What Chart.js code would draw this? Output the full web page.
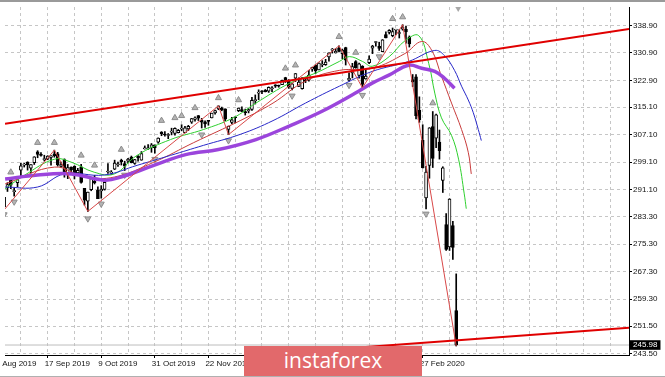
<!DOCTYPE html>
<html lang="en">
<head>
<meta charset="UTF-8">
<title>SPY Daily</title>
<script src="https://cdn.jsdelivr.net/npm/chart.js"></script>
<style>
  body { margin: 0; background: #fff; }
  #wrap { position: relative; width: 665px; height: 374px; border-top: 2px solid #9a9a9a; border-bottom: 1px solid #b0b0b0; }
  #banner { position: absolute; left: 244px; top: 344px; width: 178px; height: 30px; background: #e2696b;
            color: #fff; font: 21px 'Open Sans', sans-serif; text-align: center; line-height: 29px; }
</style>
</head>
<body>
<div id="wrap">
  <canvas id="spyChart" width="665" height="374"></canvas>
  <div id="banner">instaforex</div>
</div>
<script>
// daily bars, index 0 = 23 Aug 2019 ... 138 = 12 Mar 2020
const opens = [290.92,287.27,289.54,286.14,291.72,294.22,290.57,293.14,296.79,298.25,
  299.15,297.41,299.00,302.11,301.25,299.84,299.97,300.50,301.52,301.56,
  297.86,299.85,295.98,297.63,297.89,295.97,297.74,291.50,287.81,291.14,
  293.52,291.04,290.75,291.18,296.27,295.93,297.10,298.37,299.68,298.68,
  299.42,300.58,298.73,300.91,299.74,302.94,303.00,303.43,304.13,304.92,
  307.85,307.27,306.88,307.85,307.45,307.70,308.72,307.71,308.80,310.75,
  311.52,312.68,311.29,310.86,311.09,311.98,313.41,314.61,314.86,314.59,
  308.65,310.70,312.23,314.12,314.44,313.82,314.03,314.43,316.96,319.18,
  319.63,320.00,319.75,320.45,321.59,321.47,321.65,323.74,322.95,320.53,
  323.54,321.16,320.49,323.02,322.94,326.16,327.29,325.92,327.37,327.47,
  329.71,331.70,330.90,332.29,330.63,332.44,323.03,325.06,328.38,324.36,
  327.00,323.35,328.07,332.27,333.91,332.82,331.23,336.17,336.83,335.86,
  337.51,336.51,337.79,337.74,335.47,323.14,323.94,314.18,305.46,288.70,
  298.21,309.50,306.12,304.98,293.79,281.00,274.50,280.70,256.00];
const highs = [292.76,288.00,289.95,289.07,293.16,294.24,291.58,294.06,298.83,298.78,
  299.24,298.45,300.71,302.46,301.93,301.14,301.01,301.04,302.63,301.98,
  299.15,300.09,298.46,297.79,298.06,297.34,298.46,291.51,290.45,294.42,
  295.30,291.96,292.30,294.21,298.74,296.67,299.71,299.12,300.00,299.40,
  300.21,300.90,299.94,301.07,302.20,303.85,304.23,304.55,304.13,306.19,
  308.00,307.99,307.45,309.00,309.12,308.63,310.00,309.54,309.82,311.84,
  312.28,312.69,311.85,311.15,311.24,313.37,314.28,315.48,315.13,314.66,
  309.64,312.12,312.25,314.89,315.18,314.55,314.70,317.99,318.67,320.15,
  319.93,320.25,321.00,321.07,321.65,321.52,322.95,323.80,323.10,322.13,
  324.89,323.64,323.73,323.54,325.78,326.73,327.46,327.96,328.62,329.02,
  330.92,332.18,332.18,332.95,332.00,332.53,325.12,327.85,328.63,327.91,
  327.17,326.16,330.01,333.09,334.19,333.99,334.75,337.02,337.64,338.12,
  337.73,337.67,339.08,338.64,335.81,324.60,324.57,318.11,310.00,297.89,
  309.16,313.84,313.10,308.47,297.79,284.19,288.52,281.94,266.66];
const lows = [284.81,285.58,286.03,285.25,290.61,291.42,289.27,291.97,294.99,297.70,
  296.81,295.99,298.45,300.41,300.85,299.45,299.82,298.22,300.57,297.96,
  297.57,294.75,294.33,295.46,294.23,295.90,293.00,286.64,284.82,290.81,
  292.78,288.50,288.65,291.00,295.85,295.57,296.97,297.88,298.29,296.69,
  298.94,298.91,298.50,299.40,299.68,302.91,302.86,301.99,301.74,304.61,
  306.81,306.70,305.95,307.05,307.00,307.61,308.22,307.64,308.27,310.39,
  311.03,311.22,309.06,309.25,309.85,311.98,313.06,314.37,314.06,311.17,
  307.13,310.32,310.58,313.81,313.80,312.81,313.44,314.17,316.02,317.26,
  319.02,319.53,319.39,319.63,320.83,320.90,321.64,322.28,320.55,320.15,
  322.53,321.10,320.36,322.24,322.67,325.52,324.89,325.92,326.84,327.26,
  328.45,330.82,330.82,331.17,329.22,327.36,322.66,323.60,326.40,323.54,
  320.73,323.22,327.73,330.67,332.80,331.60,331.19,335.26,336.38,335.56,
  336.20,335.21,337.48,333.68,332.58,321.12,311.69,310.70,297.40,285.54,
  294.46,297.57,303.33,300.01,290.31,273.45,273.46,270.88,245.70];
const closes = [284.85,288.00,286.87,288.89,292.58,292.45,290.74,294.04,298.05,298.26,
  298.30,298.39,300.66,301.35,301.09,300.16,300.86,300.98,300.94,298.32,
  298.45,295.87,297.55,296.94,295.40,296.77,293.24,288.06,290.42,294.35,
  293.08,288.53,291.27,293.24,296.28,295.95,298.88,298.40,299.28,297.97,
  299.99,299.01,299.88,300.37,301.60,303.30,303.21,304.14,303.33,306.14,
  307.37,307.03,307.10,308.18,308.94,308.35,309.00,309.10,309.55,311.79,
  312.02,311.93,310.78,310.27,310.96,313.37,314.08,315.48,314.31,311.64,
  309.55,311.46,312.02,314.87,313.88,313.53,314.42,317.13,317.32,319.50,
  319.57,319.59,320.90,320.73,321.22,321.23,322.94,322.86,321.08,321.86,
  324.87,322.41,323.64,322.73,324.45,326.65,325.71,327.95,327.45,328.19,
  330.92,331.95,331.30,331.34,331.72,328.77,323.50,326.89,326.62,327.68,
  321.73,324.12,329.06,332.86,333.98,332.20,334.68,335.26,337.42,337.06,
  337.60,336.73,338.34,336.95,333.48,322.42,312.65,311.50,297.51,296.26,
  309.09,300.24,312.86,302.46,297.46,273.80,288.42,274.36,245.98];

const lastPrice = 245.98;

// Alligator (jaw / teeth / lips, shifted forward) and the thick MA as [bar, price]
const jaw = [[3.3,291.9],[13,291.9],[21,295.7],[32.9,295.4],[42.7,298.2],[52.7,301.1],[62.5,304.0],
  [73.5,307.2],[83.3,311.2],[93,316.3],[103.1,321.2],[112.9,325.5],[123.8,328.4],[131.6,331.6],
  [134.5,330.1],[137.5,325.8],[139.6,321.2],[141.6,317.2],[143.1,313.5],[144.6,308.6],[145.5,305.4]];
const teeth = [[3.3,292.8],[18.1,297.7],[27,294.8],[35.9,294.8],[47.7,299.1],[59.6,304.8],[73.5,311.2],
  [83.3,316.3],[93,322.7],[103.1,325.8],[112.9,326.4],[122.7,330.7],[127.7,334.2],[130.7,331.6],
  [133.6,324.1],[136.6,316.3],[139.6,308.6],[141.6,302.0],[142.5,295.7]];
const lips = [[3.3,291.4],[9.2,295.4],[18.1,300.0],[23.1,299.1],[29.9,296.2],[35.9,295.7],[42.7,301.1],
  [52.7,305.7],[62.5,308.6],[71.4,312.0],[78.2,316.3],[88.3,322.1],[96,325.0],[103.1,328.4],[106.1,329.8],
  [110,328.4],[112.9,327.0],[118,329.8],[122.7,334.4],[126.8,335.9],[129.8,327.8],[131.6,319.2],
  [133.6,312.0],[136.6,306.9],[138.7,300.0],[140.4,289.9],[141,285.6]];
const slowMa = [[3.3,294.2],[13,295.4],[23.1,295.7],[32.9,293.9],[37.9,294.8],[47.7,298.2],[57.5,301.4],
  [67,302.8],[78.2,305.7],[88.3,309.7],[98.1,314.0],[107.9,319.2],[112.9,322.1],[117.9,324.4],
  [123.8,327.3],[127.7,326.4],[131.6,325.5],[134.5,323.5],[137.5,320.6]];
const zigzag = [[3,285.25],[18,302.63],[28,284.82],[67,315.48],[70,307.13],[103,332.95],[110,320.73],
  [122,339.08],[138,245.70]];
const fractalsUp = [[5,296.2],[13,304.8],[18,304.8],[26,301.1],[30,298.2],[38,302.8],[50,311.2],[54,312.0],
  [56,312.6],[60,314.9],[67,317.8],[73,317.2],[87,326.4],[90,327.3],[103,335.6],[108,331.0],[119,340.8],
  [122,341.3],[131,316.3]];
const fractalsDown = [[3,283.9],[6,287.6],[28,282.7],[32,287.0],[39,295.4],[48,300.0],[62,307.1],[70,305.4],
  [89,318.4],[106,321.5],[110,318.6],[115,329.8],[129,284.1]];

// trend lines
const upperTrend = [[3.26,310.3],[189.6,337.8]];
const lowerTrend = [[62.5,241.96],[189.6,250.98]];

// axes
const viewStart = 3.26, viewEnd = 189.6;
const yMin = 243.08, yMax = 344.22;
const shiftMark = 138.6;   // chart-shift marker, just right of the last bar
const yTicks = [338.90,330.90,322.90,315.10,307.10,299.10,291.10,283.30,275.30,267.30,259.30,251.50,243.50,245.98];
const gridIdx = [0,8,16,24,32,40,48,56,64,72,80,88,96,104,112,120,128,136,144,152,160,168,176,184];
const labelIdx = [0,16,32,48,64,80,96,112,128];
const labelText = ['23 Aug 2019','17 Sep 2019','9 Oct 2019','31 Oct 2019','22 Nov 2019','17 Dec 2019','10 Jan 2020','4 Feb 2020','27 Feb 2020'];

const pts = arr => arr.map(p => ({x: p[0], y: p[1]}));
const font = {family: "'Liberation Sans', Arial, sans-serif", size: 8};

const ctx = document.getElementById('spyChart').getContext('2d');
const chart = new Chart(ctx, {
  data: {
    datasets: [
      { type: 'line', label: 'upper', data: pts(upperTrend), borderColor: '#e00000', borderWidth: 2, pointRadius: 0, order: 0 },
      { type: 'line', label: 'lower', data: pts(lowerTrend), borderColor: '#e00000', borderWidth: 2, pointRadius: 0, order: 0 },
      { type: 'line', label: 'zigzag', data: pts(zigzag), borderColor: '#d84848', borderWidth: 1, pointRadius: 0, order: 1 },
      { type: 'line', label: 'ma', data: pts(slowMa), borderColor: '#9b45dc', borderWidth: 3.5, pointRadius: 0, tension: 0.4, order: 2 },
      { type: 'line', label: 'jaw', data: pts(jaw), borderColor: '#2828c8', borderWidth: 1, pointRadius: 0, tension: 0.4, order: 3 },
      { type: 'line', label: 'teeth', data: pts(teeth), borderColor: '#c83c3c', borderWidth: 1, pointRadius: 0, tension: 0.4, order: 3 },
      { type: 'line', label: 'lips', data: pts(lips), borderColor: '#2ed02e', borderWidth: 1, pointRadius: 0, tension: 0.4, order: 3 },
      { type: 'bar', label: 'bodies', grouped: false, order: 6,
        data: opens.map((o, i) => ({x: i, y: [o, closes[i]]})),
        backgroundColor: opens.map((o, i) => closes[i] >= o ? '#ffffff' : '#000000'),
        borderColor: '#000', borderWidth: 1, borderSkipped: false, barThickness: 3, minBarLength: 1 },
      { type: 'bar', label: 'wicks', grouped: false, order: 7,
        data: opens.map((o, i) => ({x: i, y: [lows[i], highs[i]]})),
        backgroundColor: '#000', barThickness: 1 },
      { type: 'line', label: 'fractal up', data: pts(fractalsUp), showLine: false, pointStyle: 'triangle',
        pointRadius: 3.5, pointBackgroundColor: '#b4b4b4', pointBorderColor: '#8c8c8c', pointBorderWidth: 1, order: 8 },
      { type: 'line', label: 'fractal down', data: pts(fractalsDown), showLine: false, pointStyle: 'triangle', pointRotation: 180,
        pointRadius: 3.5, pointBackgroundColor: '#b4b4b4', pointBorderColor: '#8c8c8c', pointBorderWidth: 1, order: 8 },
      { type: 'line', label: 'shift', data: [{x: shiftMark, y: yMax}], showLine: false, pointStyle: 'triangle', pointRotation: 180,
        pointRadius: 5, pointBackgroundColor: '#a8a8a8', pointBorderWidth: 0, order: 8 },
      { type: 'line', label: 'bid', data: [{x: viewStart, y: lastPrice}, {x: viewEnd, y: lastPrice}],
        borderColor: '#bdbdbd', borderWidth: 1, pointRadius: 0, order: 9 }
    ]
  },
  options: {
    responsive: false,
    animation: false,
    devicePixelRatio: 1,
    layout: { padding: { top: 1, left: 0, right: 0, bottom: 0 } },
    plugins: { legend: { display: false }, tooltip: { enabled: false } },
    scales: {
      x: {
        type: 'linear', min: viewStart, max: viewEnd, offset: false,
        grid: { color: '#c6c6c6', offset: false, tickLength: 3,
                tickColor: c => labelIdx.includes(c.tick && c.tick.value) ? '#000' : 'rgba(0,0,0,0)' },
        border: { display: true, color: '#000', dash: [3, 3] },
        ticks: { autoSkip: false, maxRotation: 0, align: 'start', padding: 1, labelOffset: -3, font: font, color: '#111',
                 callback: v => { const k = labelIdx.indexOf(v); return k >= 0 ? labelText[k] : ''; } },
        afterBuildTicks: s => { s.ticks = gridIdx.map(v => ({value: v})); },
        afterFit: s => { s.height = 21; s.paddingLeft = 0; s.paddingRight = 0; }
      },
      y: {
        position: 'right', min: yMin, max: yMax, beginAtZero: false,
        grid: { color: c => (c.tick && c.tick.value === lastPrice) ? 'rgba(0,0,0,0)' : '#c6c6c6',
                tickLength: 3, tickColor: '#000' },
        border: { display: true, color: '#000', dash: [3, 3] },
        ticks: { autoSkip: false, padding: 1, font: font,
                 color: c => c.tick.value === lastPrice ? '#fff' : '#111',
                 showLabelBackdrop: c => c.tick.value === lastPrice,
                 backdropColor: '#000', backdropPadding: {x: 3, y: 0},
                 callback: v => v.toFixed(2) },
        afterBuildTicks: s => { s.ticks = yTicks.map(v => ({value: v})); },
        afterFit: s => { s.width = 36; s.paddingTop = 0; s.paddingBottom = 0; }
      }
    }
  }
});
</script>
</body>
</html>
